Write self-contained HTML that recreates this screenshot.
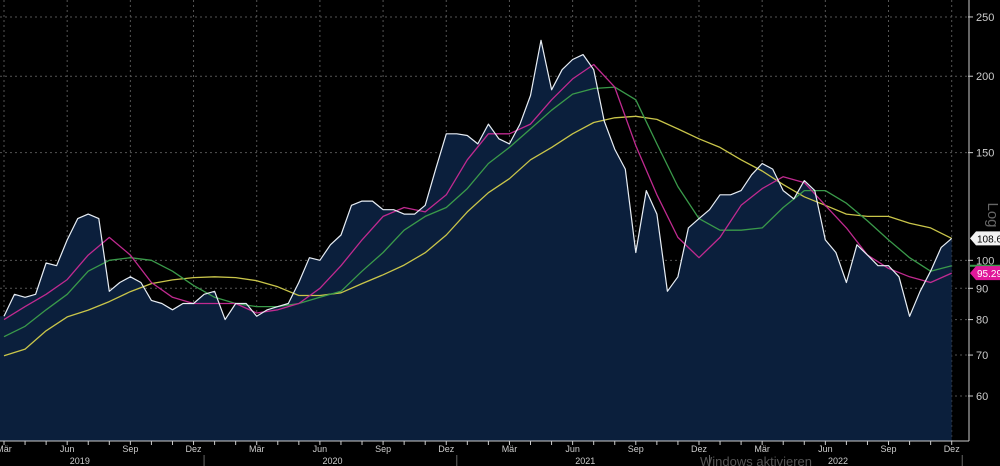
<!DOCTYPE html>
<html><head><meta charset="utf-8"><style>
html,body{margin:0;padding:0;background:#000;}
svg{display:block;font-family:"Liberation Sans",sans-serif;}
</style></head><body>
<svg id="chart" width="1000" height="466" viewBox="0 0 1000 466">
<rect x="0" y="0" width="1000" height="466" fill="#000"/>
<g id="grid"></g>
<g id="series"></g>
<g id="axes"></g>
<text x="700" y="466" fill="#555" font-size="13">Windows aktivieren</text>
</svg>
<script>
const priceValues=[81,88,87,88,99,98,108,117,119,117,89,92,94,92,86,85,83,85,85,88,89,80,85,85,81,83,84,85,92,101,100,106,110,123,125,125,121,121,119,119,123,141,161,161,160,155,167,158,155,167,186,229,190,205,213,217,205,169,152,141,103,130,119,89,94,113,117,121,128,128,130,138,144,141,130,126,135,130,108,103,92,106,102,98,98,94,81,89,96,105,108.6];
const ma50Values=[80,84,88,93,102,109,102,92,87,85,85,85,82,83,85,90,98,108,118,122,120,128,146,161,161,167,183,198,209,192,154,128,109,101,109,123,131,137,134,123,113,102,97,94,92,95.3];
const ma100Values=[75,78,83,88,96,100,101,100,96,91,87,85,84,84,85,87,89,96,103,112,118,122,131,144,153,164,176,187,191,192,183,155,132,117,112,112,113,122,130,130,124,116,108,101,96,98];
const ma200Values=[69.8,71.6,76.7,80.8,82.9,85.6,88.9,91.6,92.9,93.7,94,93.7,92.6,90.5,87.6,87.6,88.5,91.6,94.7,98.2,102.9,110,120,129,136,146,153,161,168,171,172,170,164,158,153,146,140,133,127,123,119,118,118,115,113,108.6];
const yTicks=[250,200,150,100,90,80,70,60];
const monthLabels=["Mär","Jun","Sep","Dez"];
const yearLabels=["2019","2020","2021","2022"];
const lastPrice="108.63", lastMa50="95.29";

const NS="http://www.w3.org/2000/svg";
const PLOT_R=968, PLOT_B=441;
function yScale(v){return 396-265.6*Math.log(v/60);}
function xHalf(i){return 4+i*10.53;}
function xMonth(k){return 4+k*21.06;}
function mk(tag,attrs,parent){const e=document.createElementNS(NS,tag);for(const k in attrs)e.setAttribute(k,attrs[k]);parent.appendChild(e);return e;}
const grid=document.getElementById('grid'),series=document.getElementById('series'),axes=document.getElementById('axes');

yTicks.forEach(v=>{
  const y=yScale(v);
  const g=mk('line',{x1:0,x2:PLOT_R,y1:y,y2:y,stroke:'#555','stroke-width':1,'stroke-dasharray':'2,3'},grid);
  
  
  const t=mk('line',{x1:PLOT_R,x2:PLOT_R+5,y1:y,y2:y,stroke:'#ccc','stroke-width':1},axes);
  
  
  const l=mk('text',{x:PLOT_R+8,y:y+4,fill:'#ccc','font-size':11},axes);
  l.textContent=v;
  
  
});
for(let q=0;q<16;q++){
  const x=xMonth(q*3);
  const g=mk('line',{x1:x,x2:x,y1:0,y2:PLOT_B,stroke:'#555','stroke-width':1,'stroke-dasharray':'2,3'},grid);
  
  
  const l=mk('text',{x:x,y:452,fill:'#ccc','font-size':9,'text-anchor':'middle'},axes);
  l.textContent=monthLabels[q%4];
  
  
}
for(let m=0;m<46;m++){
  const x=xMonth(m);
  const t=mk('line',{x1:x,x2:x,y1:PLOT_B,y2:PLOT_B+4,stroke:'#ccc','stroke-width':1},axes);
  
  
}
yearLabels.forEach((yr,i)=>{
  const xs=xMonth(i*12+3.6);
  const l=mk('text',{x:xs,y:464,fill:'#ccc','font-size':9,'text-anchor':'middle'},axes);
  l.textContent=yr;
  
  
  const sx=xMonth(i*12+9.5);
  const s=mk('line',{x1:sx,x2:sx,y1:455,y2:466,stroke:'#666','stroke-width':1},axes);
  
  
});
const ax1=mk('line',{x1:0,x2:PLOT_R+1,y1:PLOT_B,y2:PLOT_B,stroke:'#ccc','stroke-width':1},axes);


const ax2=mk('line',{x1:PLOT_R+1,x2:PLOT_R+1,y1:0,y2:PLOT_B,stroke:'#ccc','stroke-width':1},axes);



let pts=priceValues.map((v,i)=>[xHalf(i),yScale(v)]);
let d='M0,'+PLOT_B+' L0,'+pts[0][1].toFixed(1)+' '+pts.map(p=>'L'+p[0].toFixed(1)+','+p[1].toFixed(1)).join(' ')+' L'+pts[pts.length-1][0].toFixed(1)+','+PLOT_B+' Z';
const area=mk('path',{d:d,fill:'#0b1f3c'},series);


function line(vals,xf,color,name,w){
  const p=vals.map((v,i)=>(i?'L':'M')+xf(i).toFixed(1)+','+yScale(v).toFixed(1)).join(' ');
  const e=mk('path',{d:p,fill:'none',stroke:color,'stroke-width':w,'stroke-linejoin':'round'},series);
  
  
}
line(ma200Values,xMonth,'#c9c54a','ma200-line',1.3);
line(ma100Values,xMonth,'#3a9a4a','ma100-line',1.3);
line(ma50Values,xMonth,'#c02a90','ma50-line',1.3);
line(priceValues,xHalf,'#e8eef5','price-line',1.2);

function tag(val,bg,fg,name){
  const y=yScale(parseFloat(val));
  const p=mk('path',{d:`M970,${y} L976,${y-7} L1000,${y-7} L1000,${y+7} L976,${y+7} Z`,fill:bg},axes);
  
  
  const t=mk('text',{x:977,y:y+4,fill:fg,'font-size':10},axes);
  t.textContent=val;
  
  
}
const gm=mk('line',{x1:970,x2:1000,y1:yScale(ma100Values[45]),y2:yScale(ma100Values[45]),stroke:'#3a9a4a','stroke-width':2},axes);


tag(lastPrice,'#f2f2f2','#000','last-price-label');
tag(lastMa50,'#e0189a','#fff','ma50-last-label');
const lg=mk('text',{x:988,y:215,fill:'#666','font-size':15,transform:'rotate(90 988 215)','text-anchor':'middle'},axes);
lg.textContent='Log';


</script>
</body></html>
